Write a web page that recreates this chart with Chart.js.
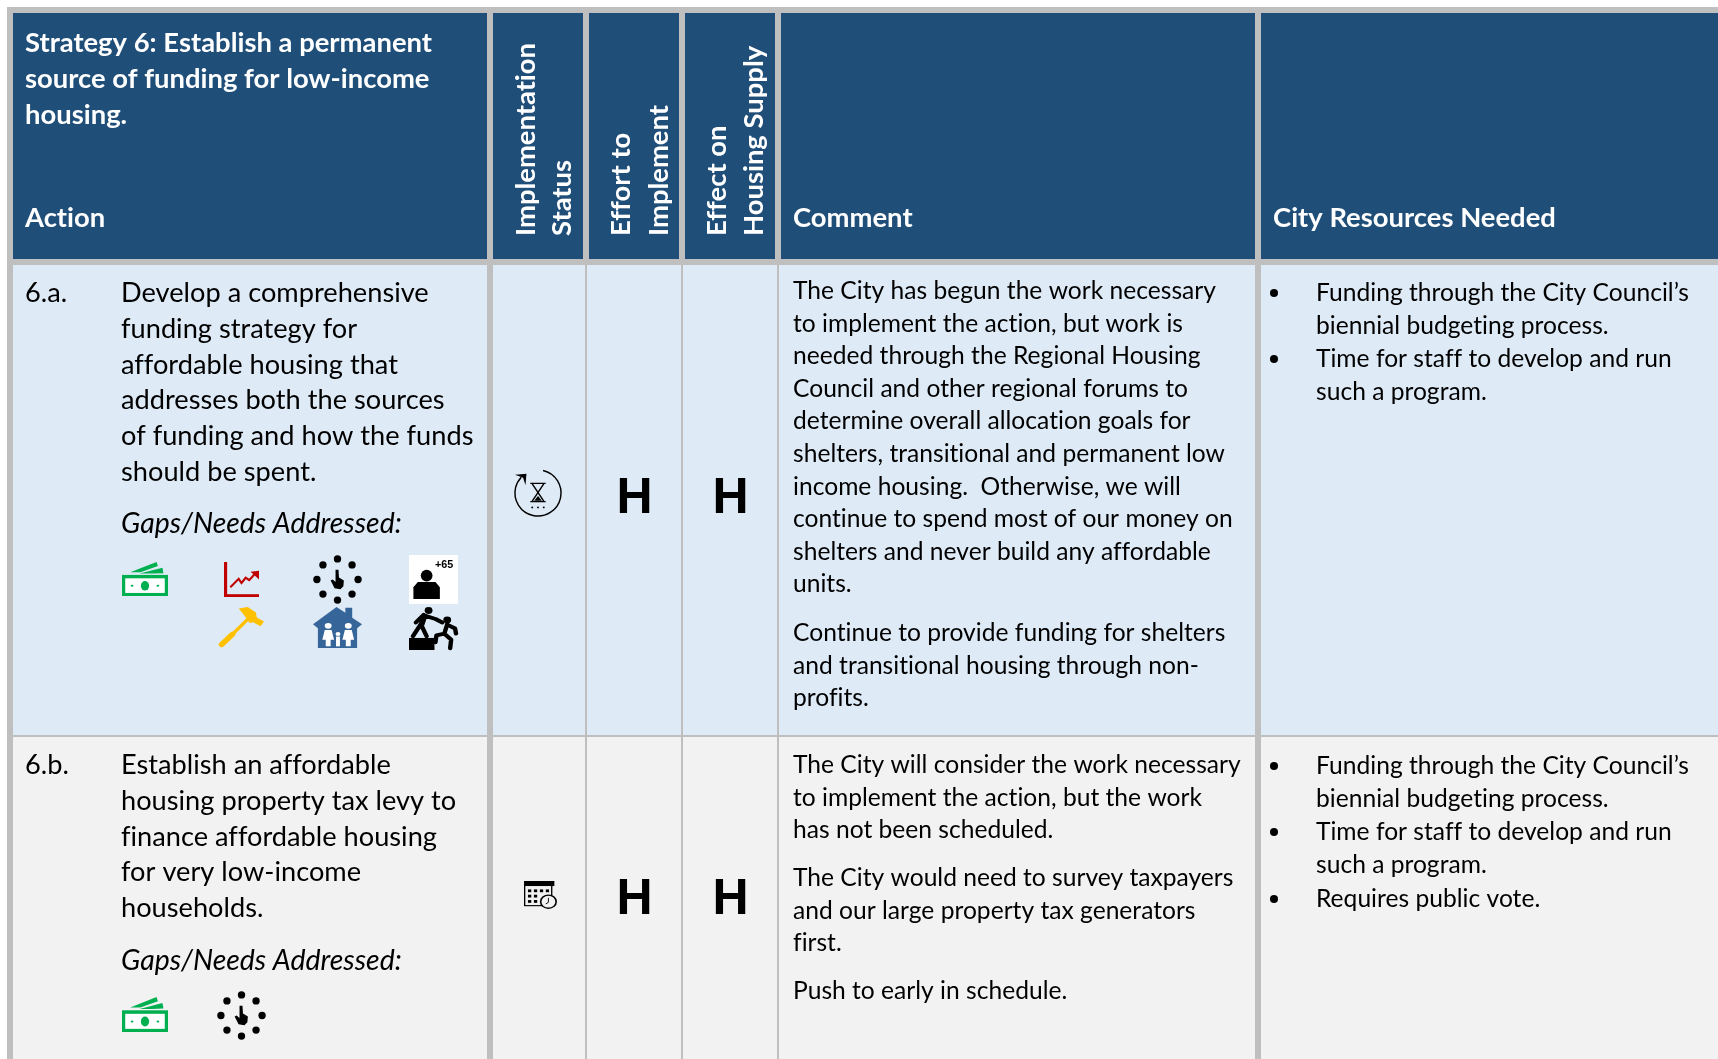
<!DOCTYPE html>
<html>
<head>
<meta charset="utf-8">
<style>
html, body { margin: 0; padding: 0; background: #fff; overflow: hidden; }
#wrap { width: 1718px; height: 1059px; }
</style>
<script src="https://cdn.jsdelivr.net/npm/chart.js@4"></script>
</head>
<body>
<div id="wrap"><canvas id="tableChart"></canvas></div>
<script>
// Table contents
const strategyTitle = ['Strategy 6: Establish a permanent', 'source of funding for low-income', 'housing.'];
const plainHeaders = ['Action', 'Comment', 'City Resources Needed'];
const rotatedHeaders = [['Implementation', 'Status'], ['Effort to', 'Implement'], ['Effect on', 'Housing Supply']];
const actionIds = ['6.a.', '6.b.'];
const actionTexts = [
    ['Develop a comprehensive', 'funding strategy for', 'affordable housing that', 'addresses both the sources', 'of funding and how the funds', 'should be spent.'],
    ['Establish an affordable', 'housing property tax levy to', 'finance affordable housing', 'for very low-income', 'households.']
];
const gapsLabel = 'Gaps/Needs Addressed:';
const effortRatings = ['H', 'H'];
const supplyRatings = ['H', 'H'];
const comments = [
    [
        ['The City has begun the work necessary', 'to implement the action, but work is', 'needed through the Regional Housing', 'Council and other regional forums to', 'determine overall allocation goals for', 'shelters, transitional and permanent low', 'income housing.  Otherwise, we will', 'continue to spend most of our money on', 'shelters and never build any affordable', 'units.'],
        ['Continue to provide funding for shelters', 'and transitional housing through non-', 'profits.']
    ],
    [
        ['The City will consider the work necessary', 'to implement the action, but the work', 'has not been scheduled.'],
        ['The City would need to survey taxpayers', 'and our large property tax generators', 'first.'],
        ['Push to early in schedule.']
    ]
];
const resources = [
    [['Funding through the City Council\u2019s', 'biennial budgeting process.'], ['Time for staff to develop and run', 'such a program.']],
    [['Funding through the City Council\u2019s', 'biennial budgeting process.'], ['Time for staff to develop and run', 'such a program.'], ['Requires public vote.']]
];

// Layout, in reference pixels
const W = 1718, H = 1059;
const headerCols = [[13, 487], [493, 583], [589, 679], [685, 775], [781, 1255], [1261, 1718]];
const bodyCols = [[13, 487], [493, 585], [587, 681], [683, 777], [779, 1255], [1261, 1718]];
const headerBand = [13, 259];
const bodyBands = [[265, 735], [737, 1059]];
const colors = { head: '#1F4E79', grid: '#BFBFBF', rowA: '#DEEAF6', rowB: '#F2F2F2', ink: '#000' };

const SANS = 'Lato, "Noto Sans", sans-serif';

function band(range, cols, fill) {
    return {
        data: cols.map(c => ({ y: (range[0] + range[1]) / 2, x: c })),
        backgroundColor: fill,
        maxBarThickness: range[1] - range[0],
        barPercentage: 40, // thickness is capped by maxBarThickness, not by row spacing
        categoryPercentage: 1,
        grouped: false
    };
}

// small helpers for the plugin, everything goes through the scales
function put(chart, x, y) {
    return [chart.scales.x.getPixelForValue(x), chart.scales.y.getPixelForValue(y)];
}

function textAt(chart, str, x, y, font, color) {
    const ctx = chart.ctx;
    const p = put(chart, x, y);
    ctx.font = font;
    ctx.letterSpacing = '0.01px'; // keeps Lato from joining ti/fi
    ctx.fillStyle = color || colors.ink;
    ctx.textAlign = 'left';
    ctx.textBaseline = 'alphabetic';
    ctx.fillText(str, p[0], p[1]);
}

function block(chart, lines, x, y, step, font, color) {
    lines.forEach((l, i) => textAt(chart, l, x, y + i * step, font, color));
}

function drawHeaders(chart) {
    const ctx = chart.ctx;
    const bold = 'bold 27.4px ' + SANS;
    block(chart, strategyTitle, 25, 52, 36, bold, '#fff');
    textAt(chart, plainHeaders[0], 25, 227, bold, '#fff');
    textAt(chart, plainHeaders[1], 793, 227, bold, '#fff');
    textAt(chart, plainHeaders[2], 1273, 227, bold, '#fff');
    const baselines = [[535, 571], [630, 668], [726, 763]];
    rotatedHeaders.forEach((pair, i) => {
        pair.forEach((label, j) => {
            const p = put(chart, baselines[i][j], 236);
            ctx.save();
            ctx.translate(p[0], p[1]);
            ctx.rotate(-Math.PI / 2);
            ctx.font = bold;
            ctx.letterSpacing = '0.01px';
            ctx.fillStyle = '#fff';
            ctx.textAlign = 'left';
            ctx.textBaseline = 'alphabetic';
            ctx.fillText(label, 0, 0);
            ctx.restore();
        });
    });
}

function drawBody(chart) {
    const main = '27.2px ' + SANS;
    const small = '24.6px ' + SANS;
    const italic = 'italic 28.4px ' + SANS;
    const ratingFont = 'bold 50px "Liberation Sans", Arial, sans-serif';
    const firstY = [302, 774];
    const gapsY = [533, 970];
    const ratingY = [513, 914];
    const ratingX = [616.5, 712.5];
    const commentY = [[299, 641], [773, 886, 999]];
    const resourceY = [[301, 367], [774, 840, 907]];

    actionIds.forEach((id, r) => {
        textAt(chart, id, 25, firstY[r], main);
        block(chart, actionTexts[r], 121, firstY[r], 35.8, main);
        textAt(chart, gapsLabel, 121, gapsY[r], italic);
        textAt(chart, effortRatings[r], ratingX[0], ratingY[r], ratingFont);
        textAt(chart, supplyRatings[r], ratingX[1], ratingY[r], ratingFont);
        comments[r].forEach((para, k) => block(chart, para, 793, commentY[r][k], 32.6, small));
        resources[r].forEach((item, k) => {
            const c = put(chart, 1274, resourceY[r][k] - 8);
            chart.ctx.beginPath();
            chart.ctx.arc(c[0], c[1], 4, 0, Math.PI * 2);
            chart.ctx.fillStyle = colors.ink;
            chart.ctx.fill();
            block(chart, item, 1316, resourceY[r][k], 33, small);
        });
    });
}

// Icons are small pictograms, drawn in a box given in reference pixels
function iconBox(chart, x0, y0, x1, y1, paint) {
    const ctx = chart.ctx;
    const a = put(chart, x0, y0), b = put(chart, x1, y1);
    ctx.save();
    ctx.translate(a[0], a[1]);
    ctx.scale((b[0] - a[0]) / 100, (b[1] - a[1]) / 100);
    paint(ctx);
    ctx.restore();
}

function poly(ctx, pts, fill) {
    ctx.beginPath();
    pts.forEach((p, i) => i ? ctx.lineTo(p[0], p[1]) : ctx.moveTo(p[0], p[1]));
    ctx.closePath();
    ctx.fillStyle = fill;
    ctx.fill();
}

function dot(ctx, x, y, r, fill) {
    ctx.beginPath();
    ctx.ellipse(x, y, r, r, 0, 0, Math.PI * 2);
    ctx.fillStyle = fill;
    ctx.fill();
}

function paintMoney(ctx) {
    const g = '#00B050';
    poly(ctx, [[18, 30], [75, 0], [78, 12], [40, 30]], g);
    poly(ctx, [[38, 34], [88, 17], [90, 33], [65, 34]], g);
    ctx.fillStyle = g;
    ctx.fillRect(0, 38, 100, 62);
    ctx.fillStyle = '#fff';
    ctx.fillRect(7, 48, 86, 43);
    ctx.fillStyle = g;
    ctx.beginPath();
    ctx.ellipse(50, 70, 9, 14, 0, 0, Math.PI * 2);
    ctx.fill();
    dot(ctx, 22, 70, 3, g);
    dot(ctx, 78, 70, 3, g);
}

function paintTrend(ctx) {
    const r = '#C00000';
    ctx.fillStyle = r;
    ctx.fillRect(0, 0, 9, 100);
    ctx.fillRect(0, 92, 100, 8);
    ctx.strokeStyle = r;
    ctx.lineWidth = 6;
    ctx.beginPath();
    ctx.moveTo(18, 72);
    ctx.lineTo(42, 48);
    ctx.lineTo(50, 60);
    ctx.lineTo(62, 45);
    ctx.lineTo(72, 52);
    ctx.lineTo(90, 32);
    ctx.stroke();
    poly(ctx, [[76, 28], [100, 25], [100, 50]], r);
}

function paintTouchClock(ctx) {
    for (let i = 0; i < 8; i++) {
        const a = i * Math.PI / 4;
        dot(ctx, 50 + 42 * Math.sin(a), 50 - 42 * Math.cos(a), 7.5, '#000');
    }
    poly(ctx, [[46, 30], [52, 30], [53, 46], [63, 52], [62, 64], [56, 70], [44, 68], [36, 52], [40, 50], [46, 55]], '#000');
}

function paintElder(ctx) {
    ctx.fillStyle = '#fff';
    ctx.fillRect(0, 0, 100, 100);
    ctx.fillStyle = '#000';
    ctx.font = 'bold 22px "Liberation Sans", sans-serif';
    ctx.letterSpacing = '0px';
    ctx.textAlign = 'left';
    ctx.fillText('+65', 53, 27);
    dot(ctx, 36, 42, 12, '#000');
    poly(ctx, [[9, 90], [9, 66], [18, 55], [54, 55], [63, 66], [63, 90]], '#000');
}

function paintHammer(ctx) {
    ctx.strokeStyle = '#FFC000';
    ctx.lineCap = 'round';
    ctx.lineWidth = 13;
    ctx.beginPath();
    ctx.moveTo(6, 94);
    ctx.lineTo(30, 68);
    ctx.stroke();
    ctx.lineWidth = 8;
    ctx.beginPath();
    ctx.moveTo(30, 68);
    ctx.lineTo(66, 28);
    ctx.stroke();
    poly(ctx, [[44, 4], [64, 0], [82, 14], [84, 26], [100, 36], [92, 48], [76, 38], [68, 40], [58, 24]], '#FFC000');
}

function paintHouse(ctx) {
    const b = '#366599';
    poly(ctx, [[0, 42], [48, 0], [66, 14], [66, 2], [80, 2], [80, 26], [100, 42], [90, 52], [90, 100], [10, 100], [10, 52]], b);
    const w = '#fff';
    [31, 72].forEach(x => {
        dot(ctx, x, 46, 7, w);
        poly(ctx, [[x - 7, 56], [x + 7, 56], [x + 12, 80], [x + 5, 80], [x + 5, 96], [x - 5, 96], [x - 5, 80], [x - 12, 80]], w);
    });
    dot(ctx, 51, 66, 5, w);
    ctx.fillStyle = w;
    ctx.fillRect(47, 72, 8, 24);
}

function paintHelp(ctx) {
    ctx.fillStyle = '#000';
    ctx.fillRect(0, 72, 52, 28);
    dot(ctx, 40, 8, 8, '#000');
    dot(ctx, 78, 30, 8, '#000');
    ctx.strokeStyle = '#000';
    ctx.lineWidth = 9;
    ctx.lineCap = 'round';
    ctx.lineJoin = 'round';
    ctx.beginPath();
    ctx.moveTo(8, 68);
    ctx.lineTo(24, 40);
    ctx.lineTo(32, 20);
    ctx.lineTo(54, 28);
    ctx.lineTo(68, 36);
    ctx.moveTo(32, 24);
    ctx.lineTo(26, 44);
    ctx.lineTo(36, 68);
    ctx.moveTo(30, 18);
    ctx.lineTo(14, 36);
    ctx.moveTo(78, 40);
    ctx.lineTo(72, 62);
    ctx.lineTo(56, 66);
    ctx.lineTo(54, 82);
    ctx.moveTo(72, 62);
    ctx.lineTo(86, 76);
    ctx.lineTo(84, 96);
    ctx.moveTo(80, 42);
    ctx.lineTo(94, 50);
    ctx.lineTo(96, 62);
    ctx.stroke();
}

function paintHourglass(ctx) {
    ctx.strokeStyle = '#000';
    ctx.lineWidth = 3;
    ctx.beginPath();
    ctx.arc(50, 50, 48, -1.35, 3.9);
    ctx.stroke();
    poly(ctx, [[2, 12], [26, 10], [24, 34], [19, 18]], '#000');
    ctx.lineWidth = 3;
    ctx.beginPath();
    ctx.moveTo(34, 30); ctx.lineTo(66, 30);
    ctx.moveTo(34, 68); ctx.lineTo(66, 68);
    ctx.moveTo(38, 31); ctx.lineTo(62, 67);
    ctx.moveTo(62, 31); ctx.lineTo(38, 67);
    ctx.stroke();
    poly(ctx, [[42, 66], [58, 66], [50, 56]], '#000');
    [38, 50, 62].forEach(x => dot(ctx, x, 80, 2, '#000'));
}

function paintCalendar(ctx) {
    ctx.strokeStyle = '#000';
    ctx.lineWidth = 4;
    ctx.strokeRect(2, 4, 82, 84);
    ctx.fillStyle = '#000';
    ctx.fillRect(0, 0, 92, 18);
    for (let r = 0; r < 3; r++) {
        for (let c = 0; c < 4; c++) {
            if (r > 0 && c > 1) continue;
            ctx.fillRect(12 + c * 18, 30 + r * 19, 10, 10);
        }
    }
    dot(ctx, 74, 74, 26, '#000');
    dot(ctx, 74, 74, 21, colors.rowB);
    ctx.lineWidth = 3;
    ctx.beginPath();
    ctx.moveTo(74, 60);
    ctx.lineTo(74, 76);
    ctx.lineTo(66, 82);
    ctx.stroke();
}

function drawIcons(chart) {
    iconBox(chart, 122, 562, 168, 596, paintMoney);
    iconBox(chart, 224, 562, 259, 597, paintTrend);
    iconBox(chart, 313, 555, 362, 604, paintTouchClock);
    iconBox(chart, 409, 555, 458, 604, paintElder);
    iconBox(chart, 219, 607, 264, 647, paintHammer);
    iconBox(chart, 313, 607, 362, 648, paintHouse);
    iconBox(chart, 409, 607, 458, 650, paintHelp);
    iconBox(chart, 122, 997, 168, 1032, paintMoney);
    iconBox(chart, 217, 991, 266, 1040, paintTouchClock);
    iconBox(chart, 514, 469, 562, 517, paintHourglass);
    iconBox(chart, 524, 881, 557, 909, paintCalendar);
}

const tableText = {
    id: 'tableText',
    afterDatasetsDraw(chart) {
        drawHeaders(chart);
        drawBody(chart);
        drawIcons(chart);
    }
};

document.addEventListener('DOMContentLoaded', () => {
    new Chart(document.getElementById('tableChart'), {
        type: 'bar',
        data: {
            datasets: [
                band(headerBand, headerCols, colors.head),
                band(bodyBands[0], bodyCols, colors.rowA),
                band(bodyBands[1], bodyCols, colors.rowB),
                // grey backing shows through as the grid lines, it is drawn first
                band([7, 1059], [[7, 1718]], colors.grid)
            ]
        },
        options: {
            indexAxis: 'y',
            responsive: false,
            animation: false,
            layout: { padding: 0 },
            plugins: { legend: { display: false }, tooltip: { enabled: false } },
            scales: {
                x: { type: 'linear', min: 0, max: W, offset: false, display: false },
                y: { type: 'linear', min: 0, max: H, offset: false, reverse: true, display: false }
            }
        },
        plugins: [tableText]
    });
});

const cv = document.getElementById('tableChart');
cv.width = W;
cv.height = H;
cv.style.width = W + 'px';
cv.style.height = H + 'px';
</script>
</body>
</html>
